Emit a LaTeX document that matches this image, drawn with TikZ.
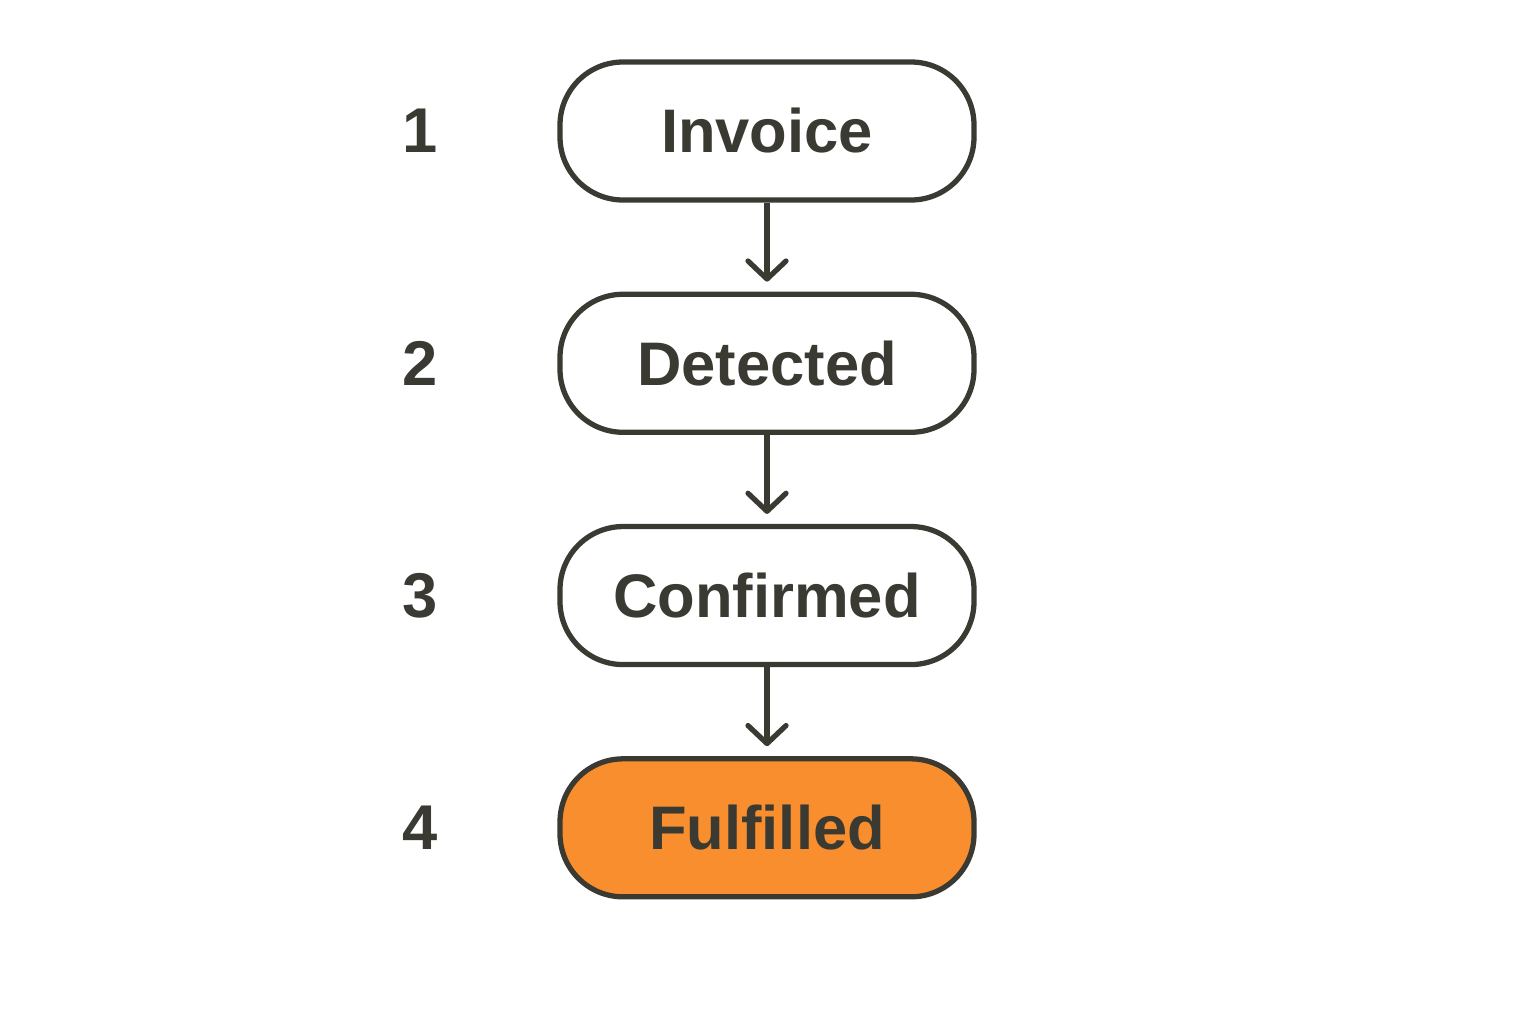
\documentclass[tikz,border=0pt]{standalone}
\usepackage{fontspec}
\setmainfont{Liberation Sans}
\usetikzlibrary{arrows.meta, positioning}

\definecolor{inkgray}{HTML}{3A3A33}
\definecolor{doneorange}{HTML}{F98E2E}

\begin{document}
\begin{tikzpicture}[
    stagebox/.style={draw=inkgray, line width=1.5pt, rounded corners=0.63cm,
                     minimum width=4.14cm, minimum height=1.38cm, fill=white,
                     font=\fontsize{17.5}{21}\selectfont\bfseries, text=inkgray},
    stagenum/.style={font=\fontsize{18}{21}\selectfont\bfseries, text=inkgray},
    flow/.style={draw=inkgray, line width=1.5pt,
                 -{Straight Barb[length=1.8mm, width=3.8mm, line width=1.5pt, round]},
                 shorten >=1mm}
  ]
    \useasboundingbox (0,0) rectangle (15.36,-10.24);

    % stages
    \node[stagebox] (inv) at (7.67,-1.31) {Invoice};
    \node[stagebox, below=0.89cm of inv] (det) {Detected};
    \node[stagebox, below=0.89cm of det] (conf) {Confirmed};
    \node[stagebox, below=0.89cm of conf, fill=doneorange] (ful) {Fulfilled};

    % step numbers
    \node[stagenum, left=1.07cm of inv] (n1) {1};
    \node[stagenum, left=1.07cm of det] (n2) {2};
    \node[stagenum, left=1.07cm of conf] (n3) {3};
    \node[stagenum, left=1.07cm of ful] (n4) {4};

    % arrows
    \draw[flow] (inv) -- (det);
    \draw[flow] (det) -- (conf);
    \draw[flow] (conf) -- (ful);
  \end{tikzpicture}
\end{document}
